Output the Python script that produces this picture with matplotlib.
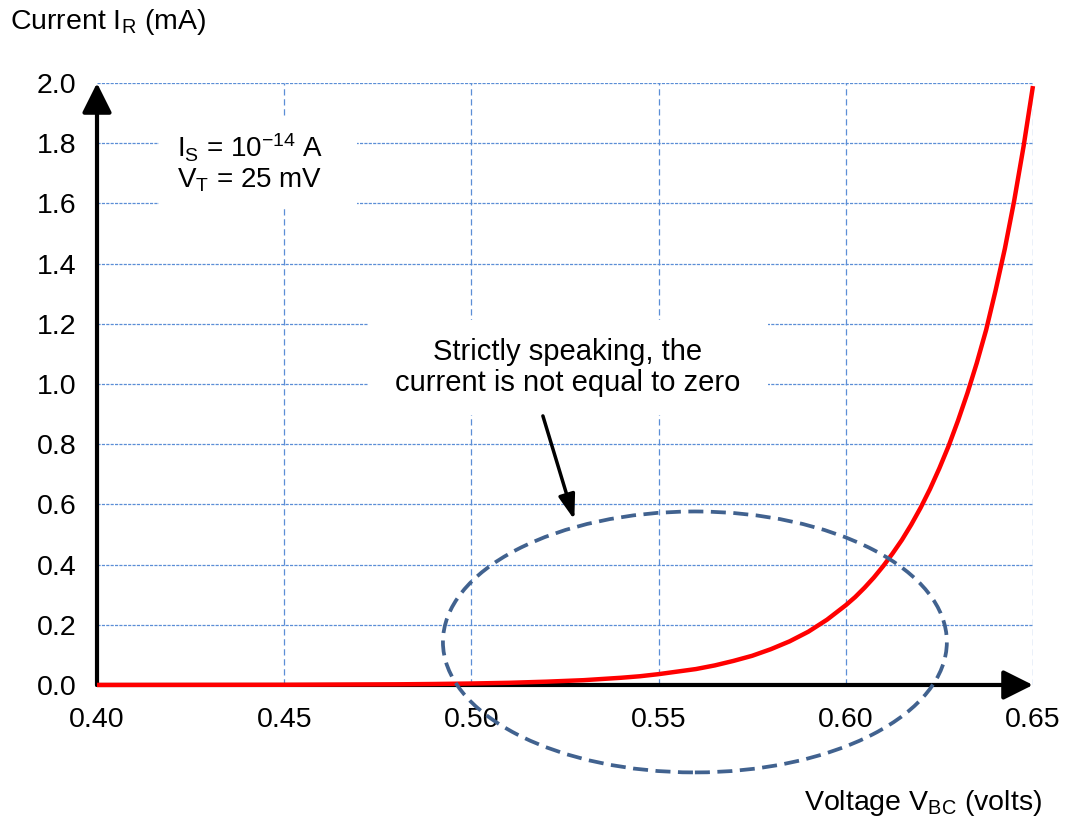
import matplotlib
matplotlib.use('Agg')
import matplotlib.pyplot as plt
from matplotlib.patches import Ellipse, Rectangle

plt.rcParams['font.family'] = ['Liberation Sans', 'DejaVu Sans']
plt.rcParams['mathtext.fontset'] = 'custom'
plt.rcParams['mathtext.rm'] = 'Liberation Sans'
plt.rcParams['mathtext.it'] = 'Liberation Sans'

# values (V_BC in volts, I_R in mA)
volts = [0.40, 0.45, 0.48, 0.49, 0.50, 0.51, 0.52, 0.53, 0.535, 0.54, 0.545, 0.55,
         0.56, 0.565, 0.57, 0.575, 0.58, 0.585, 0.59, 0.595, 0.60, 0.6025, 0.605,
         0.6075, 0.61, 0.6125, 0.615, 0.6175, 0.62, 0.6225, 0.625, 0.6275, 0.63,
         0.6325, 0.635, 0.6375, 0.64, 0.6425, 0.645, 0.6475, 0.65]
current_mA = [0.0001, 0.0007, 0.0022, 0.0033, 0.0049, 0.0072, 0.011, 0.016, 0.020,
              0.024, 0.029, 0.036, 0.053, 0.065, 0.080, 0.097, 0.119, 0.145, 0.177,
              0.217, 0.265, 0.292, 0.323, 0.357, 0.395, 0.437, 0.482, 0.533, 0.589,
              0.651, 0.720, 0.795, 0.879, 0.97, 1.07, 1.18, 1.31, 1.45, 1.61, 1.79, 1.99]
xticks = [0.40, 0.45, 0.50, 0.55, 0.60, 0.65]
yticks = [0.0, 0.2, 0.4, 0.6, 0.8, 1.0, 1.2, 1.4, 1.6, 1.8, 2.0]

fig = plt.figure(figsize=(10.66, 8.23), dpi=100)
ax = fig.add_axes([0.091, 0.1677, 0.878, 0.7314])
ax.set_xlim(0.40, 0.65)
ax.set_ylim(0.0, 2.0)
for s in ax.spines.values():
    s.set_visible(False)
ax.set_xticks(xticks)
ax.set_yticks(yticks)
ax.set_xticklabels(['%.2f' % v for v in xticks], fontsize=20.5)
ax.set_yticklabels(['%.1f' % v for v in yticks], fontsize=20.5)
ax.tick_params(length=0, pad=15)
ax.tick_params(axis='x', pad=16)

gc = '#5B8ED6'
for y in yticks[1:]:
    ax.axhline(y, color=gc, lw=0.9, ls=(0, (2.5, 1)), zorder=1)
for x in xticks[1:]:
    ax.axvline(x, color=gc, lw=0.9, ls=(0, (5, 3)), zorder=1)

# white label boxes covering the grid
ax.add_patch(Rectangle((0.4165, 1.588), 0.0529, 0.296, fc='white', ec='none', zorder=2))
ax.add_patch(Rectangle((0.4724, 0.897), 0.1069, 0.316, fc='white', ec='none', zorder=2))

ax.text(0.4213, 1.735, '$\\mathregular{I_S}$ = 10$^{\\mathregular{-14}}$ A\n$\\mathregular{V_T}$ = 25 mV',
        fontsize=20, ha='left', va='center', zorder=3, linespacing=1.1)
ax.text(0.5258, 1.054, 'Strictly speaking, the\ncurrent is not equal to zero',
        fontsize=21, ha='center', va='center', zorder=3, linespacing=1.12)

# axes with arrow heads
head = '-|>,head_length=1.8,head_width=0.9'
ax.annotate('', xy=(0.4, 2.0), xytext=(0.4, 0.0), xycoords='data',
            arrowprops=dict(arrowstyle=head, lw=3, color='black', shrinkA=0, shrinkB=0),
            zorder=4, annotation_clip=False)
ax.annotate('', xy=(0.65, 0.0), xytext=(0.4, 0.0), xycoords='data',
            arrowprops=dict(arrowstyle=head, lw=3, color='black', shrinkA=0, shrinkB=0),
            zorder=4, annotation_clip=False)

ax.plot(volts, current_mA, color='#FF0000', lw=3.2, zorder=5, clip_on=False,
        solid_joinstyle='round', solid_capstyle='butt')

ax.add_patch(Ellipse((0.5597, 0.143), 0.1346, 0.867, fill=False, ec='#41628F', lw=2.7,
                     ls=(0, (4, 2)), zorder=6, clip_on=False))

ax.annotate('', xy=(0.5275, 0.549), xytext=(0.5191, 0.894),
            arrowprops=dict(arrowstyle='-|>,head_length=1.5,head_width=0.5', lw=2.5,
                            color='black', shrinkA=0, shrinkB=0), zorder=6)

fig.text(10 / 1066, 1 - 22 / 823, 'Current $\\mathregular{I_R}$ (mA)', fontsize=20.5, ha='left', va='center')
fig.text(1042 / 1066, 1 - 803 / 823, 'Voltage $\\mathregular{V_{BC}}$ (volts)', fontsize=20.5,
         ha='right', va='center')

fig.savefig('out.png', dpi=100)
